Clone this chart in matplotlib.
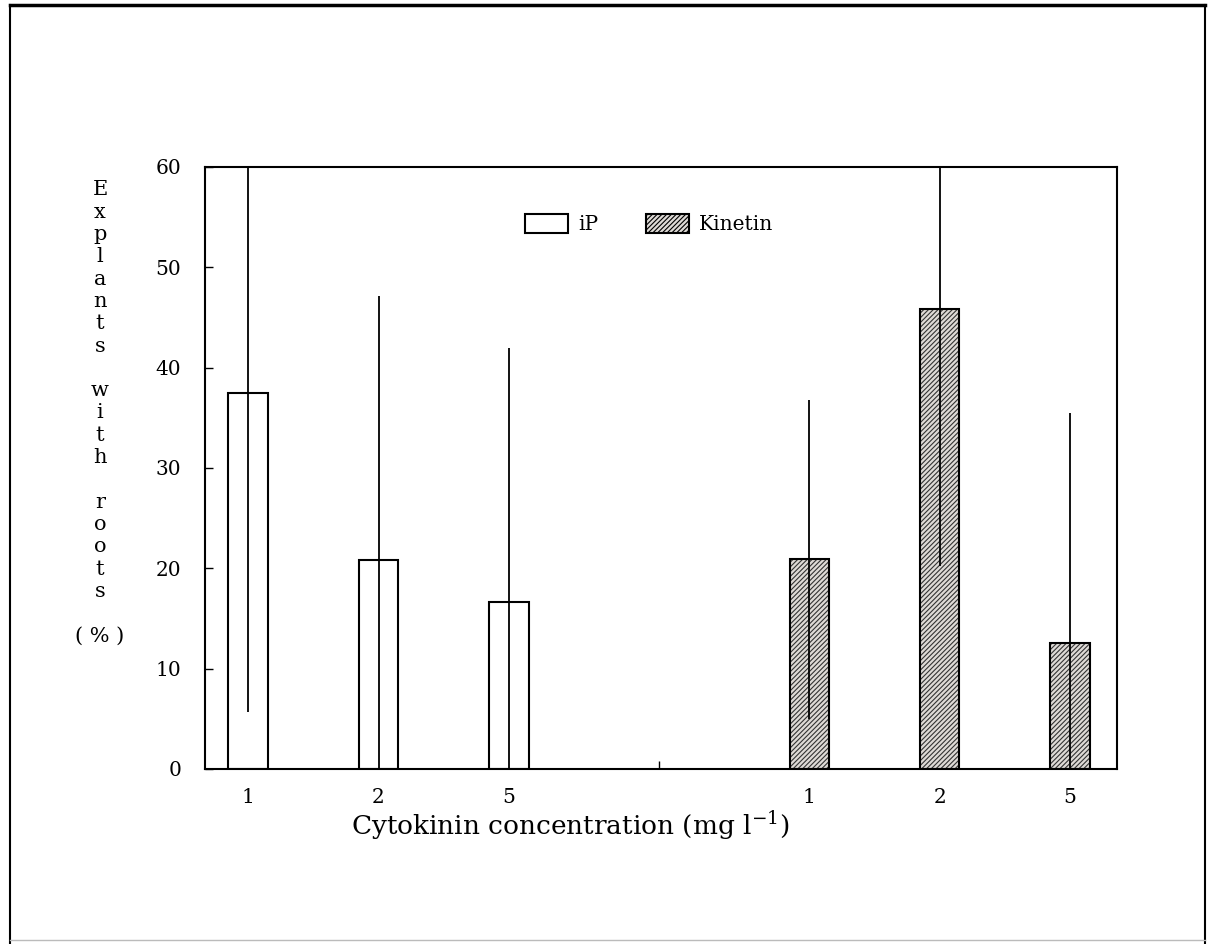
import matplotlib
matplotlib.use('Agg')
import matplotlib.pyplot as plt
import matplotlib.patches as mpatches
from matplotlib.lines import Line2D

# Explants with roots (%) -- mean and SD per cytokinin concentration
conc_labels = ['1', '2', '5']
ip_mean = [37.5, 20.8, 16.6]
ip_sd = [31.8, 26.3, 25.4]
kin_mean = [20.9, 45.8, 12.6]
kin_sd = [15.9, 25.6, 22.9]

ip_pos = [0, 1, 2]
kin_pos = [4.3, 5.3, 6.3]

plt.rcParams['font.family'] = ['DejaVu Serif']
plt.rcParams['mathtext.fontset'] = 'dejavuserif'
plt.rcParams['hatch.linewidth'] = 0.8

fig = plt.figure(figsize=(12.08, 9.44), dpi=100)
ax = fig.add_axes([0.1697, 0.1854, 0.755, 0.6377])

bar_w = 0.30
fill_grey = '#dedad6'

ax.bar(ip_pos, ip_mean, width=bar_w, color='white', edgecolor='black', linewidth=1.5, zorder=2)
ax.bar(kin_pos, kin_mean, width=bar_w, color=fill_grey, edgecolor='#333333',
       hatch='///////', linewidth=0, zorder=2)
ax.bar(kin_pos, kin_mean, width=bar_w, fill=False, edgecolor='black', linewidth=1.5, zorder=3)

# error bars: plain vertical lines, no caps
ax.errorbar(ip_pos, ip_mean, yerr=ip_sd, fmt='none', ecolor='black', elinewidth=1.3,
            capsize=0, zorder=4)
ax.errorbar(kin_pos, kin_mean, yerr=kin_sd, fmt='none', ecolor='black', elinewidth=1.3,
            capsize=0, zorder=4)

ax.set_xlim(-0.33, 6.66)
ax.set_ylim(0, 60)
ax.set_yticks([0, 10, 20, 30, 40, 50, 60])
ax.set_xticks(ip_pos + kin_pos)
ax.set_xticklabels(conc_labels + conc_labels)
ax.set_xticks([(ip_pos[-1] + kin_pos[0]) / 2], minor=True)
ax.tick_params(axis='y', direction='in', length=6, width=1, pad=17, labelsize=14.5)
ax.tick_params(axis='x', which='major', length=0, pad=14, labelsize=14.5)
ax.tick_params(axis='x', which='minor', direction='in', length=6, width=1)
for sp in ax.spines.values():
    sp.set_linewidth(1.5)

fig.text(570 / 1208, 1 - 826 / 944, r'Cytokinin concentration (mg l$^{-1}$)',
         ha='center', va='center', fontsize=19)

ylabel = '\n'.join(list('Explants') + [''] + list('with') + [''] + list('roots') + ['', '( % )'])
fig.text(100 / 1208, 1 - 413 / 944, ylabel, ha='center', va='center', fontsize=15,
         linespacing=1.22)

handles = [mpatches.Patch(facecolor='white', edgecolor='black', linewidth=1.5),
           mpatches.Patch(facecolor=fill_grey, edgecolor='black', hatch='///////', linewidth=1.5)]
ax.legend(handles, ['iP', 'Kinetin'], ncol=2, loc='center', bbox_to_anchor=(0.487, 0.905),
          frameon=False, fontsize=14.5, handlelength=2.1, handleheight=1.05,
          handletextpad=0.5, columnspacing=2.4)

# outer frame of the scanned figure
fig.add_artist(Line2D([0.0083, 0.9975], [0.9947, 0.9947], color='black', linewidth=2.5))
fig.add_artist(Line2D([0.0083, 0.0083], [0.0, 0.9947], color='black', linewidth=1.5))
fig.add_artist(Line2D([0.9975, 0.9975], [0.0, 0.9947], color='black', linewidth=1.5))
fig.add_artist(Line2D([0.0083, 0.9975], [0.004, 0.004], color='#bbbbbb', linewidth=1))

fig.savefig('out.png', dpi=100)
